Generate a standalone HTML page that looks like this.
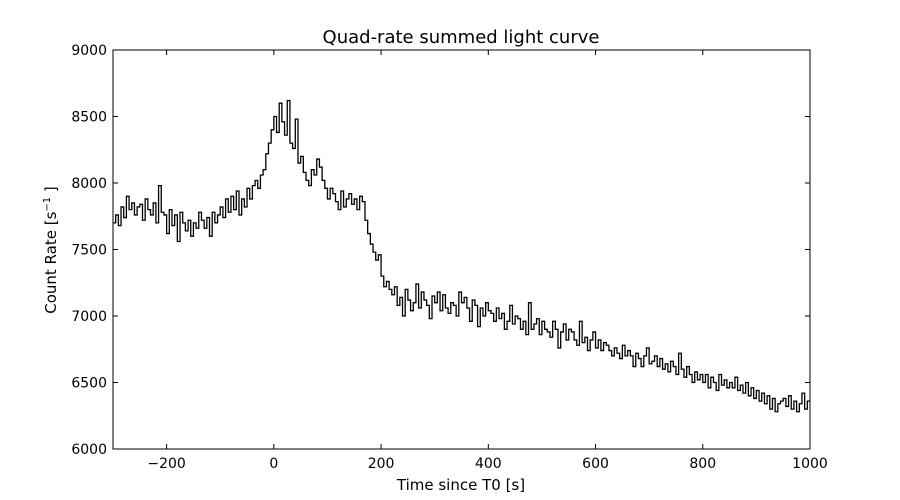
<!DOCTYPE html>
<html><head><meta charset="utf-8"><style>
body{margin:0;background:#fff;}
svg{display:block;font-family:"DejaVu Sans","Liberation Sans",sans-serif;}
</style></head><body>
<svg id="chart" width="900" height="500">
<rect x="0" y="0" width="900" height="500" fill="#fff"/>
<text x="461" y="43" font-size="18" text-anchor="middle">Quad-rate summed light curve</text>
<g id="plot"></g>
<rect x="113" y="50" width="697" height="399" fill="none" stroke="#000" stroke-width="1"/>
<g id="axes"></g>
<text x="461" y="490" font-size="15" text-anchor="middle">Time since T0 [s]</text>
<text transform="translate(56,250) rotate(-90)" font-size="15" text-anchor="middle">Count Rate [s<tspan dy="-6" font-size="10">−1</tspan><tspan dy="6"> ]</tspan></text>
</svg>
<script>
const t0 = -300, dt = 5;
const rates = [
7700,7760,7680,7820,7740,7900,7800,7850,7760,7820,
7840,7720,7880,7800,7760,7850,7700,7980,7780,7760,
7620,7800,7680,7760,7560,7780,7700,7640,7720,7600,
7700,7660,7780,7720,7660,7740,7600,7780,7700,7760,
7820,7740,7880,7780,7900,7800,7940,7760,7880,7820,
7960,7880,7980,8020,7960,8060,8100,8220,8300,8400,
8500,8380,8600,8460,8360,8620,8300,8260,8480,8150,
8200,8080,8020,7980,8100,8060,8180,8120,8020,7960,
7880,7960,7920,7860,7800,7940,7820,7880,7920,7840,
7880,7800,7900,7860,7720,7620,7540,7480,7420,7460,
7300,7220,7260,7200,7160,7220,7080,7140,7000,7200,
7120,7040,7100,7240,7060,7180,7120,7080,6980,7150,
7100,7180,7040,7160,7060,7020,7100,7080,7000,7180,
7100,7140,7060,6960,7120,7080,6920,7060,7000,7100,
7040,7020,6960,7060,6980,7020,6900,6960,7080,6940,
7000,6980,6900,6960,6860,7100,6900,6940,6980,6860,
6960,6900,6880,6840,6960,6900,6760,6880,6940,6820,
6900,6880,6820,6780,6960,6800,6840,6740,6820,6880,
6760,6820,6740,6800,6780,6740,6700,6760,6720,6680,
6780,6700,6740,6700,6620,6720,6680,6620,6700,6760,
6640,6660,6700,6620,6680,6600,6640,6580,6660,6620,
6560,6720,6600,6540,6620,6560,6500,6580,6520,6560,
6500,6560,6460,6540,6500,6440,6560,6480,6520,6460,
6500,6460,6540,6440,6480,6420,6500,6400,6460,6380,
6440,6360,6420,6340,6400,6300,6380,6280,6340,6360,
6380,6320,6400,6300,6360,6280,6340,6420,6300,6360
];
const xTicks = [-200,0,200,400,600,800,1000];
const yTicks = [6000,6500,7000,7500,8000,8500,9000];
const xMin=-300,xMax=1000,yMin=6000,yMax=9000;
const L=113,R=810,T=50,B=449;
const sx=v=>L+(v-xMin)/(xMax-xMin)*(R-L);
const sy=v=>B-(v-yMin)/(yMax-yMin)*(B-T);
const NS="http://www.w3.org/2000/svg";
const plot=document.getElementById('plot'), axes=document.getElementById('axes');
let d="";
rates.forEach((r,i)=>{
  const xa=sx(t0+i*dt), xb=sx(Math.min(t0+(i+1)*dt,xMax)), y=sy(r);
  d += (i===0?"M":"L")+xa.toFixed(2)+","+y.toFixed(2)+"L"+xb.toFixed(2)+","+y.toFixed(2);
});
const p=document.createElementNS(NS,'path');
p.setAttribute('d',d);p.setAttribute('fill','none');p.setAttribute('stroke','#000');p.setAttribute('stroke-width','1.3');


plot.appendChild(p);
xTicks.forEach(v=>{
  const x=sx(v);
  const l=document.createElementNS(NS,'path');
  l.setAttribute('d',`M${x},${B}V${B-5}M${x},${T}V${T+5}`);l.setAttribute('stroke','#000');
  
  
  axes.appendChild(l);
  const t=document.createElementNS(NS,'text');
  t.setAttribute('x',x);t.setAttribute('y',B+19);t.setAttribute('font-size','14');t.setAttribute('text-anchor','middle');
  t.textContent=(v<0?'\u2212'+(-v):v);
  
  
  axes.appendChild(t);
});
yTicks.forEach(v=>{
  const y=sy(v);
  const l=document.createElementNS(NS,'path');
  l.setAttribute('d',`M${L},${y}H${L+5}M${R},${y}H${R-5}`);l.setAttribute('stroke','#000');
  
  
  axes.appendChild(l);
  const t=document.createElementNS(NS,'text');
  t.setAttribute('x',L-6);t.setAttribute('y',y+5);t.setAttribute('font-size','14');t.setAttribute('text-anchor','end');
  t.textContent=v;
  
  
  axes.appendChild(t);
});
</script>
</body></html>
